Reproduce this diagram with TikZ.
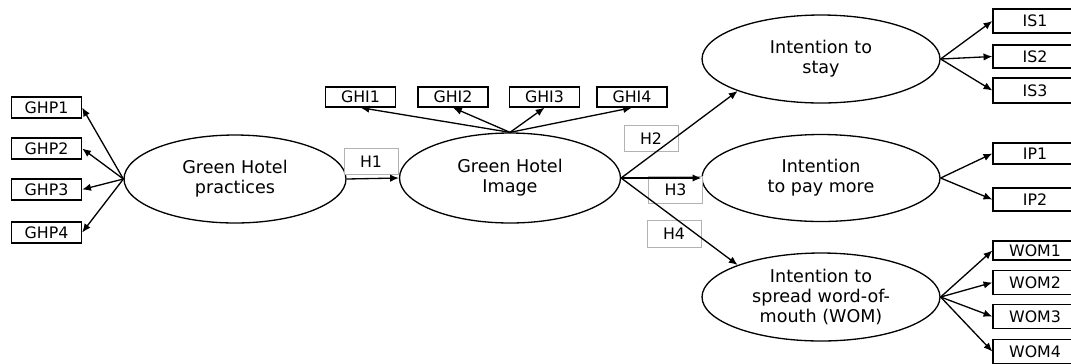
\documentclass[tikz,border=0pt]{standalone}
\usepackage{fontspec}
\setmainfont{DejaVu Sans}
\usetikzlibrary{shapes.geometric,arrows.meta}
\begin{document}
\begin{tikzpicture}[x=0.02cm,y=-0.02cm,
  lat/.style={draw=black,line width=0.75pt,ellipse,inner sep=0pt,align=center,
    font=\fontsize{10}{11.5}\selectfont},
  ind/.style={draw=black,line width=0.75pt,rectangle,inner sep=0pt,
    font=\fontsize{9}{10}\selectfont},
  hyp/.style={draw=black!30,line width=0.5pt,rectangle,inner sep=0pt,fill=white,
    minimum width=1.08cm,minimum height=0.53cm,font=\fontsize{9}{10}\selectfont},
  arr/.style={line width=0.75pt,-{Latex[length=5pt,width=4.2pt]}}]
\useasboundingbox (0,0) rectangle (1071,363);
\clip (0,0) rectangle (1071,363);
\fill[white] (0,0) rectangle (1071,363);
% latent variables
\node[lat,minimum width=4.44cm,minimum height=1.76cm] (ghp) at (235,179) {Green Hotel\\practices};
\node[lat,minimum width=4.42cm,minimum height=1.80cm] (gi) at (510,178) {Green Hotel\\Image};
\node[lat,minimum width=4.76cm,minimum height=1.76cm] (stay) at (821,59) {Intention to\\stay};
\node[lat,minimum width=4.76cm,minimum height=1.74cm] (pay) at (821,178) {Intention\\to pay more};
\node[lat,minimum width=4.76cm,minimum height=1.76cm] (wom) at (821,297) {Intention to\\spread word-of-\\mouth (WOM)};
% GHP indicators
\foreach \i/\y in {1/107.5,2/148.5,3/189.5,4/232.5}
  \node[ind,minimum width=1.40cm,minimum height=0.42cm] (ghp\i) at (46.5,\y) {GHP\i};
% GHI indicators
\foreach \i/\x in {1/360.5,2/453,3/544.5,4/632}
  \node[ind,minimum width=1.40cm,minimum height=0.40cm] (ghi\i) at (\x,97) {GHI\i};
% right indicators
\node[ind,minimum width=1.68cm,minimum height=0.48cm] (is1) at (1035,21) {IS1};
\node[ind,minimum width=1.68cm,minimum height=0.46cm] (is2) at (1035,56.5) {IS2};
\node[ind,minimum width=1.68cm,minimum height=0.50cm] (is3) at (1035,90.5) {IS3};
\node[ind,minimum width=1.68cm,minimum height=0.42cm] (ip1) at (1035,153.5) {IP1};
\node[ind,minimum width=1.68cm,minimum height=0.46cm] (ip2) at (1035,199.5) {IP2};
\node[ind,minimum width=1.68cm,minimum height=0.38cm] (wom1) at (1035,250.5) {WOM1};
\node[ind,minimum width=1.68cm,minimum height=0.48cm] (wom2) at (1035,282.5) {WOM2};
\node[ind,minimum width=1.68cm,minimum height=0.48cm] (wom3) at (1035,316.5) {WOM3};
\node[ind,minimum width=1.68cm,minimum height=0.48cm] (wom4) at (1035,351.5) {WOM4};
% hypothesis labels
\node[hyp] (h1) at (371,161.5) {H1};
\node[hyp] (h2) at (651,138.5) {H2};
\node[hyp] (h3) at (675.5,190) {H3};
\node[hyp] (h4) at (674,234) {H4};
% arrows
\foreach \i in {1,...,4} \draw[arr] (ghp.west) -- (ghp\i.east);
\foreach \i in {1,...,4} \draw[arr] (gi.north) -- (ghi\i.south);
\draw[arr] (ghp.east) -- (gi.west);
\draw[arr] (gi.east) -- (stay.201);
\draw[arr] (gi.east) -- (pay.west);
\draw[arr] (gi.east) -- (wom.159);
\foreach \n in {is1,is2,is3} \draw[arr] (stay.east) -- (\n.west);
\foreach \n in {ip1,ip2} \draw[arr] (pay.east) -- (\n.west);
\foreach \n in {wom1,wom2,wom3,wom4} \draw[arr] (wom.east) -- (\n.west);
\end{tikzpicture}
\end{document}
